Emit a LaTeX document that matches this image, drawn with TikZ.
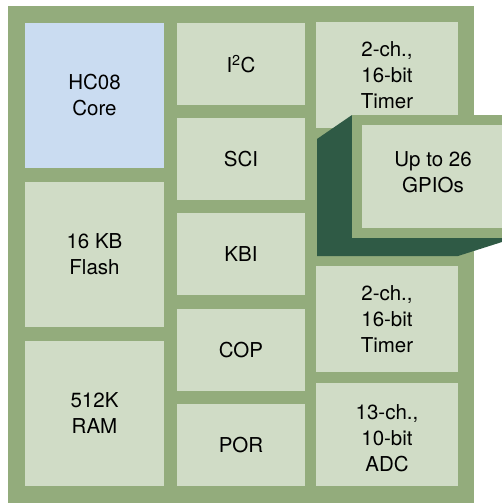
\documentclass[tikz,border=0pt]{standalone}
\usepackage{fontspec}
\setmainfont{TeX Gyre Heros}
\definecolor{outergreen}{HTML}{93AC7C}
\definecolor{lightbox}{HTML}{D0DCC6}
\definecolor{corebox}{HTML}{CADCF1}
\definecolor{darkgreen}{HTML}{2F5A45}
\begin{document}
\begin{tikzpicture}[x=1pt,y=-1pt,
  blk/.style={fill=lightbox, draw=none, inner sep=0pt, align=center,
    font=\fontsize{20.5}{26}\selectfont},
  leftblk/.style={blk, minimum width=139, minimum height=145},
  midblk/.style={blk, minimum width=128, minimum height=82},
  rightblk/.style={blk, minimum width=142},
  txt/.style={inner sep=0pt, align=center, font=\fontsize{20.5}{26}\selectfont}
]
\useasboundingbox (0,0) rectangle (502,503);
% outer board
\fill[outergreen] (8,6) rectangle (474,503);
% left column
\node[leftblk, fill=corebox] (core) at (94.5,95.5) {HC08\\Core};
\node[leftblk] (flash) at (94.5,254.5) {16 KB\\Flash};
\node[leftblk] (ram) at (94.5,413.5) {512K\\RAM};
% middle column
\node[midblk] (i2c) at (241,64) {I\textsuperscript{2}C};
\node[midblk] (sci) at (241,159) {SCI};
\node[midblk] (kbi) at (241,254) {KBI};
\node[midblk] (cop) at (241,350) {COP};
\node[midblk] (por) at (241,445) {POR};
% right column
\node[rightblk, minimum height=106] (timera) at (387,75) {2-ch.,\\16-bit\\Timer};
\node[rightblk, minimum height=106] (timerb) at (387,319) {2-ch.,\\16-bit\\Timer};
\node[rightblk, minimum height=103] (adc) at (387,434.5) {};
\node[txt] (adctext) at (adc.center) [yshift=-4pt] {13-ch.,\\10-bit\\ADC};
% GPIO raised block
\fill[darkgreen] (317,139) -- (352,115) -- (502,115) -- (502,242) -- (458,256) -- (317,256) -- cycle;
\fill[outergreen] (352,115) rectangle (502,238);
\node[fill=lightbox, draw=none, inner sep=0pt, minimum width=140, minimum height=103] (gpio) at (432,176.5) {};
\node[txt] (gpiotext) at (433,172) {Up to 26\\GPIOs};
\end{tikzpicture}
\end{document}
